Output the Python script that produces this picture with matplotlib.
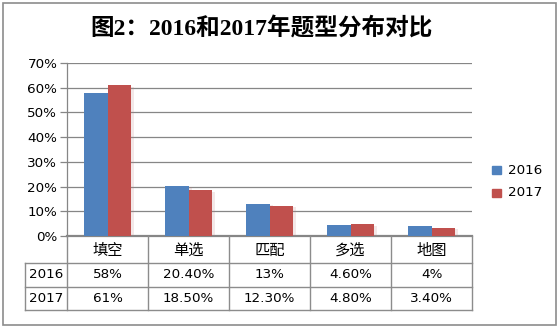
import matplotlib
matplotlib.use("Agg")
import matplotlib.pyplot as plt
from matplotlib.patches import Rectangle
import matplotlib.patheffects as pe

# Data
categories = ["填空", "单选", "匹配", "多选", "地图"]
series_names = ["2016", "2017"]
values_2016 = [58, 20.4, 13, 4.6, 4]
values_2017 = [61, 18.5, 12.3, 4.8, 3.4]
labels_2016 = ["58%", "20.40%", "13%", "4.60%", "4%"]
labels_2017 = ["61%", "18.50%", "12.30%", "4.80%", "3.40%"]
title = "图2：2016和2017年题型分布对比"

colors = ["#4F81BD", "#C0504D"]
grid_c = "#868686"
W, H = 559, 329
cjk = ["Noto Sans CJK SC", "DejaVu Sans"]
num = ["DejaVu Sans"]

fig = plt.figure(figsize=(W / 100, H / 100), dpi=100)
fig.patch.set_facecolor("white")

# plot area in pixels
L, R, T, B = 67, 472, 63, 236
ax = fig.add_axes([L / W, (H - B) / H, (R - L) / W, (B - T) / H])
ax.set_xlim(-0.5, len(categories) - 0.5)
ax.set_ylim(0, 70)
ax.set_yticks(range(0, 71, 10))
ax.set_yticklabels([f"{v}%" for v in range(0, 71, 10)], fontfamily=num, fontsize=9.7)
ax.set_xticks([])
ax.tick_params(axis="y", length=5, width=0.9, color=grid_c, pad=2)
ax.grid(axis="y", color=grid_c, lw=0.9)
ax.set_axisbelow(True)
for s in ["top", "right"]:
    ax.spines[s].set_visible(False)
ax.spines["left"].set_color(grid_c)
ax.spines["left"].set_linewidth(0.9)
ax.spines["bottom"].set_color(grid_c)
ax.spines["bottom"].set_linewidth(1.6)

bw = 0.285
shadow = [pe.SimplePatchShadow(offset=(2.5, -1), shadow_rgbFace="#c08080", alpha=0.18), pe.Normal()]
for i, (v16, v17) in enumerate(zip(values_2016, values_2017)):
    b1 = ax.bar(i - bw / 2, v16, width=bw, color=colors[0], zorder=3)
    b2 = ax.bar(i + bw / 2, v17, width=bw, color=colors[1], zorder=3)
    for b in list(b1) + list(b2):
        b.set_path_effects(shadow)

# overlay in pixel coordinates for title, legend, data table and frame
ov = fig.add_axes([0, 0, 1, 1], zorder=5)
ov.set_xlim(0, W)
ov.set_ylim(H, 0)
ov.axis("off")
ov.patch.set_alpha(0)

ov.add_patch(Rectangle((3, 3), 553, 322, fill=False, ec="#8c8c8c", lw=1.2))
ov.text(262, 28, title, ha="center", va="center", fontsize=17, fontweight="bold",
        family=["Liberation Serif", "Noto Sans CJK SC"])

# legend
for k, (name, c) in enumerate(zip(series_names, colors)):
    y = 170 + 23 * k
    ov.add_patch(Rectangle((492, y - 4.5), 8.5, 8.5, color=c))
    ov.text(508, y, name, ha="left", va="center", fontsize=9.7, family=num)

# data table
n = len(categories)
cw = (R - L) / n
row_y = [B, 263, 287, 310]
lc = "#8c8c8c"
lw = 1.0
tx0 = 25
ov.plot([tx0, R], [row_y[1]] * 2, color=lc, lw=lw)
ov.plot([tx0, R], [row_y[2]] * 2, color=lc, lw=lw)
ov.plot([tx0, R], [row_y[3]] * 2, color=lc, lw=lw)
ov.plot([tx0, tx0], [row_y[1], row_y[3]], color=lc, lw=lw)
for j in range(n + 1):
    x = L + j * cw
    ov.plot([x, x], [B, row_y[3]], color=lc, lw=lw)

for j, cat in enumerate(categories):
    xc = L + (j + 0.5) * cw
    ov.text(xc, (row_y[0] + row_y[1]) / 2 + 1, cat, ha="center", va="center",
            fontsize=11, family=cjk)
    ov.text(xc, (row_y[1] + row_y[2]) / 2, labels_2016[j], ha="center", va="center",
            fontsize=9.7, family=num)
    ov.text(xc, (row_y[2] + row_y[3]) / 2, labels_2017[j], ha="center", va="center",
            fontsize=9.7, family=num)
for k, name in enumerate(series_names):
    ov.text((tx0 + L) / 2, (row_y[k + 1] + row_y[k + 2]) / 2, name, ha="center",
            va="center", fontsize=9.7, family=num)

fig.savefig("out.png", dpi=100)
